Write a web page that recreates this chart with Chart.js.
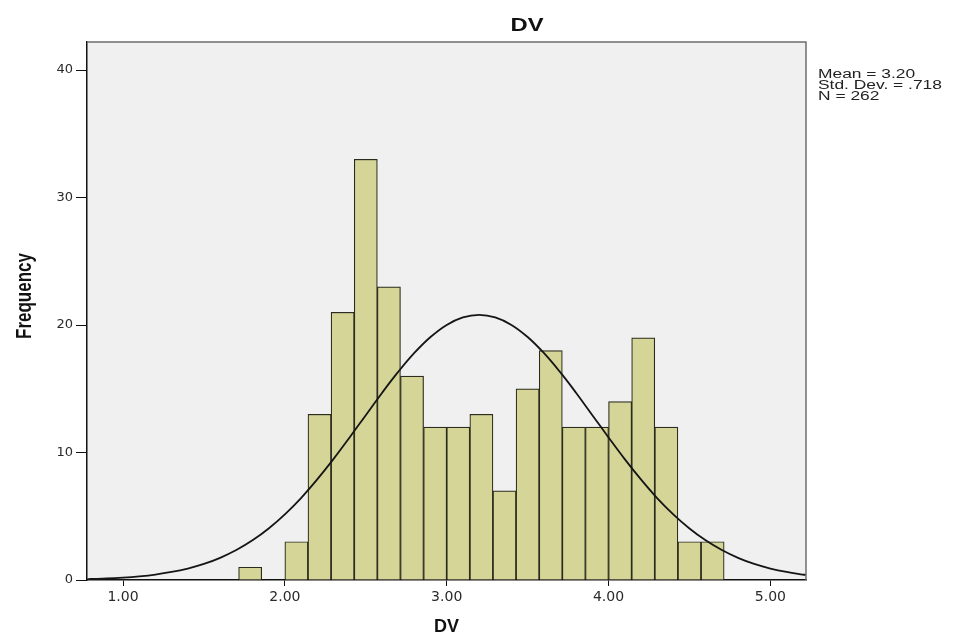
<!DOCTYPE html>
<html>
<head>
<meta charset="utf-8">
<script src="https://cdn.jsdelivr.net/npm/chart.js@4.4.1/dist/chart.umd.min.js"></script>
<style>
  html, body { margin: 0; padding: 0; background: #ffffff; }
  #wrap { width: 953px; height: 642px; position: relative; }
</style>
</head>
<body>
<div id="wrap"><canvas id="c"></canvas></div>
<script>
// ---- data ----
const chartTitle = "DV";
const xAxisTitle = "DV";
const yAxisTitle = "Frequency";
const statsLines = ["Mean = 3.20", "Std. Dev. = .718", "N = 262"];

// histogram bins (bin centres, bin width 1/7) and frequencies
const binCenters = [1.7857, 1.9286, 2.0714, 2.2143, 2.3571, 2.5000, 2.6429,
                    2.7857, 2.9286, 3.0714, 3.2143, 3.3571, 3.5000, 3.6429,
                    3.7857, 3.9286, 4.0714, 4.2143, 4.3571, 4.5000, 4.6429];
const frequencies = [1, 0, 3, 13, 21, 33, 23,
                     16, 12, 12, 13, 7, 15, 18,
                     12, 12, 14, 19, 12, 3, 3];

// normal curve read along the x axis
const curveX = [0.78, 0.8, 0.9, 1.0, 1.1, 1.2, 1.3, 1.4, 1.5, 1.6, 1.7, 1.8, 1.9,
                2.0, 2.1, 2.2, 2.3, 2.4, 2.5, 2.6, 2.7, 2.8, 2.9, 3.0, 3.1, 3.2,
                3.3, 3.4, 3.5, 3.6, 3.7, 3.8, 3.9, 4.0, 4.1, 4.2, 4.3, 4.4, 4.5,
                4.6, 4.7, 4.8, 4.9, 5.0, 5.1, 5.2, 5.22];
const curveY = [0.07, 0.08, 0.12, 0.19, 0.29, 0.43, 0.63, 0.90, 1.26, 1.74, 2.35, 3.11, 4.04,
                5.15, 6.43, 7.89, 9.48, 11.18, 12.93, 14.67, 16.32, 17.81, 19.06, 20.01, 20.60, 20.80,
                20.60, 20.01, 19.06, 17.81, 16.32, 14.67, 12.93, 11.18, 9.48, 7.89, 6.43, 5.15, 4.04,
                3.11, 2.35, 1.74, 1.26, 0.90, 0.63, 0.43, 0.40];

const xTicks = [1, 2, 3, 4, 5];
const yTicks = [0, 10, 20, 30, 40];
const xRange = [0.7775, 5.22];
const yRange = [0, 42.2];

// ---- build chart ----
const barData = binCenters.map((x, i) => ({ x: x, y: frequencies[i] }));
const curveData = curveX.map((x, i) => ({ x: x, y: curveY[i] }));

const decorPlugin = {
  id: 'decor',
  beforeDraw(chart) {
    const { ctx, chartArea: a } = chart;
    ctx.save();
    ctx.fillStyle = '#f0f0f0';
    ctx.fillRect(a.left, a.top, a.right - a.left, a.bottom - a.top);
    ctx.restore();
  },
  afterDraw(chart) {
    const { ctx, chartArea: a } = chart;
    ctx.save();
    // top and right frame
    ctx.strokeStyle = '#6e6e6e';
    ctx.lineWidth = 1.5;
    ctx.beginPath();
    ctx.moveTo(a.left, a.top);
    ctx.lineTo(a.right, a.top);
    ctx.lineTo(a.right, a.bottom);
    ctx.stroke();
    ctx.restore();
    // chart title
    ctx.save();
    ctx.fillStyle = '#111';
    ctx.textAlign = 'center';
    ctx.textBaseline = 'middle';
    ctx.translate(527, 26);
    ctx.scale(1.25, 1);
    ctx.font = 'bold 19px "Liberation Sans", Arial, sans-serif';
    ctx.fillText(chartTitle, 0, 0);
    ctx.restore();
    // y axis title
    ctx.save();
    ctx.fillStyle = '#111';
    ctx.textAlign = 'center';
    ctx.textBaseline = 'middle';
    ctx.translate(25, 296);
    ctx.rotate(-Math.PI / 2);
    ctx.scale(1, 1.3);
    ctx.font = 'bold 17px "Liberation Sans", Arial, sans-serif';
    ctx.fillText(yAxisTitle, 0, 0);
    ctx.restore();
    // statistics text
    ctx.save();
    ctx.fillStyle = '#222';
    ctx.textAlign = 'left';
    ctx.textBaseline = 'middle';
    ctx.translate(818, 75);
    ctx.scale(1.45, 1);
    ctx.font = '12px "Liberation Sans", Arial, sans-serif';
    statsLines.forEach((t, i) => ctx.fillText(t, 0, i * 11));
    ctx.restore();
  }
};

new Chart(document.getElementById('c'), {
  type: 'bar',
  data: {
    datasets: [
      {
        type: 'bar',
        data: barData,
        backgroundColor: '#d4d597',
        borderColor: '#2b2b1e',
        borderWidth: 1.2,
        barPercentage: 1.0,
        categoryPercentage: 1.0,
        order: 2
      },
      {
        type: 'line',
        data: curveData,
        borderColor: '#151515',
        borderWidth: 1.8,
        pointRadius: 0,
        tension: 0.4,
        fill: false,
        order: 1
      }
    ]
  },
  options: {
    responsive: true,
    maintainAspectRatio: false,
    animation: false,
    layout: { padding: { top: 42, right: 147, left: 0, bottom: 0 } },
    plugins: {
      legend: { display: false },
      tooltip: { enabled: false },
      title: { display: false }
    },
    scales: {
      x: {
        type: 'linear',
        offset: false,
        min: xRange[0],
        max: xRange[1],
        afterBuildTicks(scale) { scale.ticks = xTicks.map(v => ({ value: v })); },
        afterFit(scale) { scale.height = 62; },
        ticks: {
          callback: v => Number(v).toFixed(2),
          color: '#2a2a2a',
          font: { family: '"DejaVu Sans", sans-serif', size: 14 },
          padding: 3,
          maxRotation: 0
        },
        grid: {
          drawOnChartArea: false,
          drawTicks: true,
          tickLength: 6,
          color: '#111',
          offset: false
        },
        border: { color: '#111', width: 1.5 },
        title: {
          display: true,
          text: xAxisTitle,
          color: '#111',
          font: { family: '"Liberation Sans", Arial, sans-serif', size: 18, weight: 'bold' },
          padding: { top: 0, bottom: 4 }
        }
      },
      y: {
        type: 'linear',
        min: yRange[0],
        max: yRange[1],
        afterBuildTicks(scale) { scale.ticks = yTicks.map(v => ({ value: v })); },
        afterFit(scale) { scale.width = 87; },
        ticks: {
          color: '#2a2a2a',
          font: { family: '"DejaVu Sans", sans-serif', size: 13 },
          padding: 3
        },
        grid: {
          drawOnChartArea: false,
          drawTicks: true,
          tickLength: 11,
          color: '#111'
        },
        border: { color: '#111', width: 1.5 },
        title: { display: false }
      }
    }
  },
  plugins: [decorPlugin]
});
</script>
</body>
</html>
